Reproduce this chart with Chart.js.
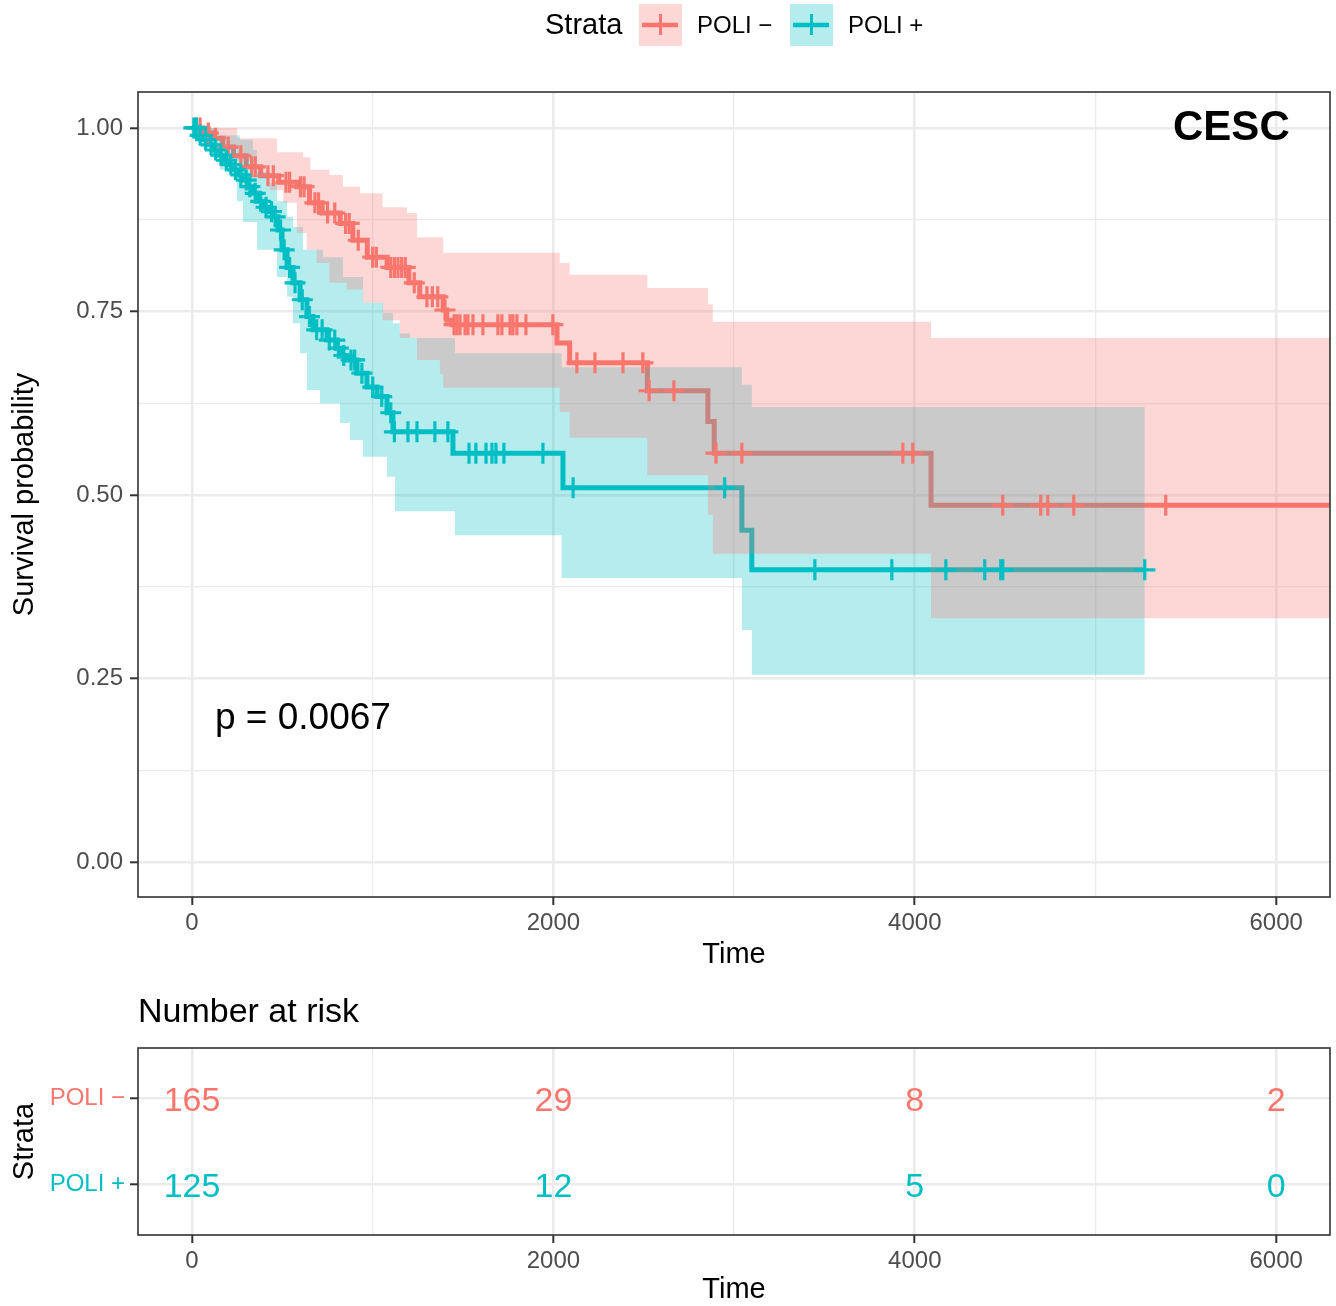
<!DOCTYPE html>
<html>
<head>
<meta charset="utf-8">
<script src="https://cdn.jsdelivr.net/npm/chart.js@4.4.1/dist/chart.umd.min.js"></script>
<style>
  body { margin: 0; background: #fff; }
  #wrap { position: relative; width: 1336px; height: 1306px; }
  #km { position: absolute; left: 0; top: 0; }
  #risk { position: absolute; left: 0; top: 975px; }
</style>
</head>
<body>
<div id="wrap">
  <canvas id="km" width="1336" height="975"></canvas>
  <canvas id="risk" width="1336" height="331"></canvas>
</div>
<script>
// ---- datos ----
const timeTicks = [0, 2000, 4000, 6000];
const timeMinor = [1000, 3000, 5000];
const survTicks = [0, 0.25, 0.5, 0.75, 1];
const survMinor = [0.125, 0.375, 0.625, 0.875];
const strata = ['POLI −', 'POLI +'];

// POLI - (rojo): curva escalonada
const negTimes = [0, 60, 110, 170, 230, 300, 380, 480, 580, 650, 720, 820, 890, 970, 1080, 1200, 1260, 1390, 1410, 1440, 2020, 2090, 2520, 2855, 2890, 4090, 6298];
const negSurv  = [1, 0.993, 0.986, 0.974, 0.962, 0.947, 0.935, 0.926, 0.92, 0.898, 0.884, 0.87, 0.847, 0.824, 0.81, 0.789, 0.77, 0.752, 0.738, 0.732, 0.707, 0.68, 0.642, 0.60, 0.557, 0.486, 0.486];
const negCensor = [20, 45, 90, 130, 200, 270, 330, 350, 420, 450, 520, 540, 600, 620, 680, 700, 750, 790, 850, 870, 920, 1000, 1020, 1100, 1120, 1140, 1160, 1180, 1230, 1300, 1330, 1360, 1400,
  1450, 1466, 1483, 1511, 1527, 1555, 1610, 1693, 1715, 1760, 1776, 1798, 1848, 1997, 2130, 2230, 2385, 2495, 2530, 2667, 2900, 3043, 3934, 3989, 4487, 4697, 4736, 4880, 5389];
// intervalo de confianza POLI -
const negBandTimes = [0, 60, 150, 250, 360, 430, 470, 505, 580, 615, 635, 655, 690, 760, 835, 855, 930, 945, 1055, 1150, 1190, 1245, 1372, 1390, 2035, 2090, 2520, 2855, 2882, 4090, 6298];
const negUpper = [1, 1, 1, 0.986, 0.986, 0.986, 0.967, 0.967, 0.967, 0.96, 0.96, 0.943, 0.943, 0.936, 0.92, 0.92, 0.911, 0.911, 0.892, 0.892, 0.884, 0.851, 0.851, 0.83, 0.816, 0.80, 0.782, 0.76, 0.736, 0.714, 0.714];
const negLower = [1, 0.99, 0.975, 0.955, 0.933, 0.915, 0.915, 0.898, 0.857, 0.857, 0.834, 0.834, 0.816, 0.789, 0.789, 0.78, 0.78, 0.762, 0.738, 0.714, 0.714, 0.684, 0.665, 0.646, 0.613, 0.578, 0.527, 0.473, 0.42, 0.332, 0.332];

// POLI + (cian)
const posTimes = [0, 30, 61, 90, 116, 145, 172, 200, 227, 255, 282, 310, 337, 365, 393, 420, 448, 476, 498, 526, 559, 598, 636, 669, 747, 802, 830, 858, 913, 968, 1024, 1079, 1112, 1444, 2053, 3043, 3098, 5273];
const posSurv  = [1, 0.99, 0.984, 0.977, 0.97, 0.963, 0.956, 0.95, 0.943, 0.936, 0.929, 0.92, 0.911, 0.90, 0.892, 0.886, 0.879, 0.861, 0.834, 0.81, 0.789, 0.766, 0.743, 0.725, 0.711, 0.70, 0.69, 0.684, 0.666, 0.647, 0.634, 0.612, 0.586, 0.557, 0.51, 0.452, 0.398, 0.398];
const posCensor = [10, 25, 45, 75, 105, 130, 160, 190, 215, 240, 270, 300, 320, 350, 380, 410, 440, 460, 490, 510, 540, 570, 610, 650, 690, 720, 760, 790, 810, 840, 880, 900, 940, 1000, 1050, 1100,
  1120, 1195, 1245, 1344, 1416, 1533, 1571, 1627, 1660, 1682, 1726, 1942, 2109, 2948, 3447, 3873, 4172, 4387, 4476, 4487, 5273];
const posBandTimes = [0, 30, 60, 100, 140, 155, 249, 265, 282, 337, 360, 432, 470, 526, 559, 598, 614, 636, 708, 725, 819, 835, 874, 946, 1057, 1079, 1112, 1123, 1150, 1206, 1455, 2045, 3043, 3098, 5273];
const posUpper = [1, 1, 1, 1, 0.99, 0.99, 0.99, 0.984, 0.984, 0.97, 0.94, 0.925, 0.90, 0.879, 0.865, 0.865, 0.834, 0.834, 0.834, 0.824, 0.824, 0.797, 0.797, 0.762, 0.748, 0.748, 0.734, 0.734, 0.72, 0.714, 0.693, 0.674, 0.65, 0.62, 0.62];
const posLower = [1, 0.985, 0.975, 0.96, 0.96, 0.943, 0.90, 0.90, 0.872, 0.872, 0.834, 0.834, 0.797, 0.77, 0.734, 0.693, 0.693, 0.643, 0.625, 0.625, 0.598, 0.598, 0.575, 0.552, 0.552, 0.525, 0.525, 0.478, 0.478, 0.478, 0.445, 0.387, 0.316, 0.255, 0.255];

// tabla de numero en riesgo
const riskTimes = [0, 2000, 4000, 6000];
const riskNeg = [165, 29, 8, 2];
const riskPos = [125, 12, 5, 0];

const pValue = 'p = 0.0067';
const panelTag = 'CESC';

const ROJO = '#F8766D';
const CIAN = '#00BFC4';
const FONDO_ROJO = 'rgba(248,118,109,0.29)';
const FONDO_CIAN = 'rgba(0,191,196,0.29)';
const FUENTE = "'Liberation Sans', Arial, Helvetica, sans-serif";
Chart.defaults.font.family = FUENTE;

const puntos = (xs, ys) => xs.map((x, i) => ({ x: x, y: ys[i] }));
function survEn(times, vals, t) {
    let v = vals[0];
    for (let i = 0; i < times.length; i++) if (times[i] <= t) v = vals[i];
    return v;
}
const marcas = (cens, times, vals) => cens.map(t => ({ x: t, y: survEn(times, vals, t) }));

const esMayorX = v => timeTicks.includes(v);

// eje x compartido por ambas graficas
function ejeTiempo(alto, padTitulo) {
    return {
        type: 'linear', min: -299, max: 6298,
        afterBuildTicks: s => { s.ticks = timeTicks.concat(timeMinor).sort((a, b) => a - b).map(v => ({ value: v })); },
        afterFit: s => { s.height = alto; },
        border: { display: false },
        grid: {
            color: '#EBEBEB',
            lineWidth: c => esMayorX(c.tick.value) ? 2.6 : 1.3,
            drawTicks: true, tickLength: 8,
            tickColor: c => esMayorX(c.tick.value) ? '#333333' : 'rgba(0,0,0,0)',
            tickWidth: 2
        },
        ticks: {
            color: '#4D4D4D', font: { size: 24 }, padding: 4, autoSkip: false, maxRotation: 0,
            callback: v => esMayorX(v) ? String(v) : ''
        },
        title: { display: true, text: 'Time', color: '#000', font: { size: 29, lineHeight: 1.1 }, padding: { top: 0, bottom: padTitulo } }
    };
}

// marco del panel (theme_bw)
const marco = {
    id: 'marco',
    afterDatasetsDraw(chart) {
        const { ctx, chartArea: a } = chart;
        ctx.save();
        ctx.strokeStyle = '#333333';
        ctx.lineWidth = 1.6;
        ctx.strokeRect(a.left, a.top, a.right - a.left, a.bottom - a.top);
        ctx.restore();
    }
};

// textos del panel y leyenda superior
const anotaciones = {
    id: 'anotaciones',
    afterDraw(chart) {
        const { ctx, scales: { x, y } } = chart;
        ctx.save();
        ctx.fillStyle = '#000';
        ctx.textBaseline = 'middle';
        ctx.font = '37px ' + FUENTE;
        ctx.textAlign = 'left';
        ctx.fillText(pValue, x.getPixelForValue(127), y.getPixelForValue(0.195));
        ctx.font = 'bold 42px ' + FUENTE;
        ctx.textAlign = 'right';
        ctx.fillText(panelTag, x.getPixelForValue(6075), y.getPixelForValue(1.0));

        // leyenda
        ctx.textAlign = 'left';
        ctx.font = '29px ' + FUENTE;
        ctx.fillText('Strata', 545, 26);
        const claves = [[639, ROJO, FONDO_ROJO, strata[0]], [790, CIAN, FONDO_CIAN, strata[1]]];
        claves.forEach(([x0, col, fondo, txt]) => {
            ctx.fillStyle = fondo;
            ctx.fillRect(x0, 4, 43, 42);
            ctx.strokeStyle = col;
            ctx.lineWidth = 4.5;
            ctx.beginPath(); ctx.moveTo(x0 + 3, 25); ctx.lineTo(x0 + 39, 25); ctx.stroke();
            ctx.lineWidth = 3;
            ctx.beginPath(); ctx.moveTo(x0 + 21.5, 14); ctx.lineTo(x0 + 21.5, 35); ctx.stroke();
            ctx.fillStyle = '#000';
            ctx.font = '24px ' + FUENTE;
            ctx.fillText(txt, x0 + 58, 26);
        });
        ctx.restore();
    }
};

new Chart(document.getElementById('km'), {
    type: 'line',
    data: {
        datasets: [
            { data: puntos(negTimes, negSurv), stepped: true, borderColor: ROJO, borderWidth: 5, pointRadius: 0, fill: false, order: 5 },
            { data: puntos(posTimes, posSurv), stepped: true, borderColor: CIAN, borderWidth: 5, pointRadius: 0, fill: false, order: 4 },
            { data: puntos(posBandTimes, posUpper), stepped: true, borderWidth: 0, pointRadius: 0, fill: 3, backgroundColor: FONDO_CIAN, order: 3 },
            { data: puntos(posBandTimes, posLower), stepped: true, borderWidth: 0, pointRadius: 0, fill: false, order: 3 },
            { data: puntos(negBandTimes, negUpper), stepped: true, borderWidth: 0, pointRadius: 0, fill: 5, backgroundColor: FONDO_ROJO, order: 2 },
            { data: puntos(negBandTimes, negLower), stepped: true, borderWidth: 0, pointRadius: 0, fill: false, order: 2 },
            { data: marcas(negCensor, negTimes, negSurv), showLine: false, pointStyle: 'cross', pointRadius: 10.5, pointBorderWidth: 3.2, pointBorderColor: ROJO, borderColor: ROJO, order: 1 },
            { data: marcas(posCensor, posTimes, posSurv), showLine: false, pointStyle: 'cross', pointRadius: 10.5, pointBorderWidth: 3.2, pointBorderColor: CIAN, borderColor: CIAN, order: 0 }
        ]
    },
    options: {
        responsive: false,
        animation: false,
        events: [],
        layout: { autoPadding: false, padding: { top: 92, right: 6, left: 0, bottom: 0 } },
        plugins: { legend: { display: false }, tooltip: { enabled: false } },
        scales: {
            x: ejeTiempo(78, 4),
            y: {
                min: -0.0477, max: 1.049,
                afterBuildTicks: s => { s.ticks = survTicks.concat(survMinor).sort((a, b) => a - b).map(v => ({ value: v })); },
                afterFit: s => { s.width = 138; },
                border: { display: false },
                grid: {
                    color: '#EBEBEB',
                    lineWidth: c => survTicks.includes(c.tick.value) ? 2.6 : 1.3,
                    drawTicks: true, tickLength: 8,
                    tickColor: c => survTicks.includes(c.tick.value) ? '#333333' : 'rgba(0,0,0,0)',
                    tickWidth: 2
                },
                ticks: {
                    color: '#4D4D4D', font: { size: 24 }, padding: 7, autoSkip: false,
                    callback: v => survTicks.includes(v) ? v.toFixed(2) : ''
                },
                title: { display: true, text: 'Survival probability', color: '#000', font: { size: 29, lineHeight: 1.2 }, padding: { top: 8, bottom: 0 } }
            }
        }
    },
    plugins: [marco, anotaciones]
});

// tabla de riesgo
const filaDe = { 'POLI −': 2, 'POLI +': 1 };
const numeros = {
    id: 'numeros',
    afterDatasetsDraw(chart) {
        const { ctx } = chart;
        ctx.save();
        ctx.font = '34px ' + FUENTE;
        ctx.textAlign = 'center';
        ctx.textBaseline = 'middle';
        chart.data.datasets.forEach((ds, i) => {
            const meta = chart.getDatasetMeta(i);
            ctx.fillStyle = ds.borderColor;
            meta.data.forEach((pt, j) => ctx.fillText(String(ds.conteos[j]), pt.x, pt.y + 3));
        });
        ctx.fillStyle = '#000';
        ctx.textAlign = 'left';
        ctx.fillText('Number at risk', chart.chartArea.left, 38);
        ctx.restore();
    }
};

new Chart(document.getElementById('risk'), {
    type: 'line',
    data: {
        datasets: [
            { data: riskTimes.map(t => ({ x: t, y: filaDe[strata[0]] })), conteos: riskNeg, borderColor: ROJO, showLine: false, pointRadius: 0 },
            { data: riskTimes.map(t => ({ x: t, y: filaDe[strata[1]] })), conteos: riskPos, borderColor: CIAN, showLine: false, pointRadius: 0 }
        ]
    },
    options: {
        responsive: false,
        animation: false,
        events: [],
        layout: { autoPadding: false, padding: { top: 73, right: 6, left: 0, bottom: 0 } },
        plugins: { legend: { display: false }, tooltip: { enabled: false } },
        scales: {
            x: ejeTiempo(71, 0),
            y: {
                min: 0.407, max: 2.593,
                afterBuildTicks: s => { s.ticks = [1, 2].map(v => ({ value: v })); },
                afterFit: s => { s.width = 138; },
                border: { display: false },
                grid: { color: '#EBEBEB', lineWidth: 2.6, drawTicks: true, tickLength: 8, tickColor: '#333333', tickWidth: 2 },
                ticks: {
                    font: { size: 24 }, padding: 5, autoSkip: false,
                    color: c => c.tick.value === 2 ? ROJO : CIAN,
                    callback: v => v === 2 ? strata[0] : strata[1]
                },
                title: { display: true, text: 'Strata', color: '#000', font: { size: 29, lineHeight: 1.2 }, padding: { top: 8, bottom: 0 } }
            }
        }
    },
    plugins: [marco, numeros]
});
</script>
</body>
</html>
